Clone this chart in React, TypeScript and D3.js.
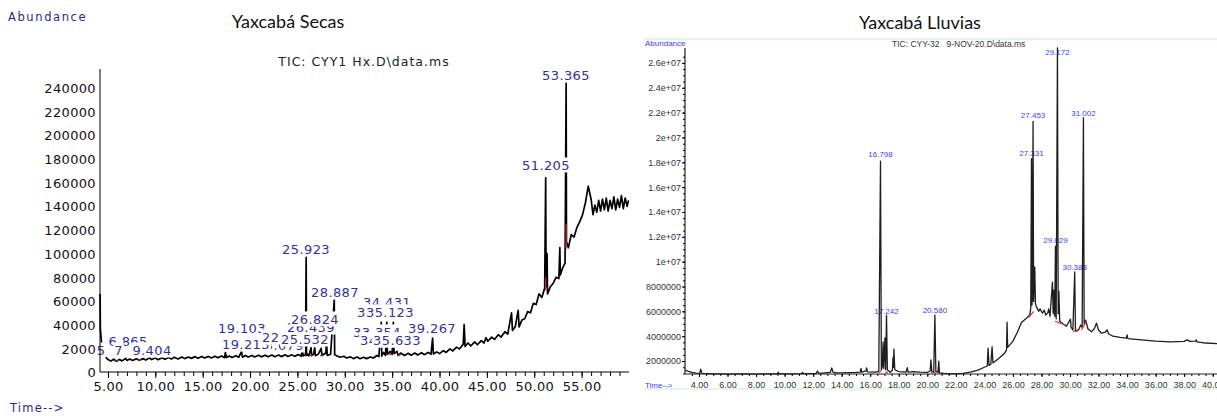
import * as d3 from 'd3';
import { useEffect, useRef } from 'react';

// ---------- Yaxcabá Secas (left chromatogram) ----------
// [retention time (min), abundance]
const secasTrace: [number, number][] = [
  [4.17, 66000], [4.2, 36000], [4.35, 22000], [4.6, 14000], [5.0, 10500], [5.3, 9200], [5.6, 10800],
  [5.9, 9000], [6.2, 10600], [6.5, 9400], [6.865, 11500], [7.0, 9800], [7.3, 10900], [7.6, 9700],
  [8.0, 11200], [8.3, 10000], [8.7, 11300], [9.0, 10200], [9.404, 12000], [9.6, 10500], [10.0, 11800],
  [10.3, 10400], [10.7, 12100], [11.0, 10700], [11.4, 12300], [11.7, 11000], [12.0, 12500], [12.4, 11000],
  [12.8, 12700], [13.1, 11300], [13.5, 12600], [13.8, 11500], [14.2, 13000], [14.5, 11600], [14.9, 13100],
  [15.2, 11800], [15.6, 13200], [15.9, 11900], [16.3, 13300], [16.6, 12000], [17.0, 13500], [17.3, 12100],
  [17.4, 16500], [17.5, 12200], [17.8, 13600], [18.1, 12300], [18.5, 13800], [18.8, 12400], [19.103, 17500],
  [19.2, 12500], [19.5, 14000], [19.8, 12600], [20.2, 14000], [20.5, 12700], [20.9, 14100], [21.2, 12800],
  [21.6, 14200], [21.9, 12800], [22.3, 14300], [22.6, 12900], [23.0, 14300], [23.3, 13000], [23.7, 14500],
  [24.0, 13100], [24.4, 14500], [24.7, 13200], [25.1, 14700], [25.4, 13300], [25.532, 19500], [25.6, 13500],
  [25.85, 14500], [25.923, 97000], [25.96, 14000], [26.1, 15000], [26.2, 13600], [26.439, 20500], [26.5, 13800],
  [26.7, 15000], [26.824, 20500], [26.9, 13800], [27.2, 15000], [27.5, 20000], [27.6, 13900], [28.0, 16000],
  [28.07, 26000], [28.15, 14000], [28.5, 15000], [28.887, 61000], [28.93, 14500], [29.2, 13500], [29.5, 12500],
  [29.9, 13300], [30.2, 11800], [30.6, 12800], [30.9, 11300], [31.3, 12600], [31.6, 11200], [32.0, 12400],
  [32.3, 11300], [32.7, 12700], [33.0, 11800], [33.4, 14000], [33.6, 13000], [33.85, 42000], [33.9, 13500],
  [34.1, 16500], [34.3, 14000], [34.431, 42000], [34.5, 15000], [34.8, 17500], [35.0, 15000], [35.123, 42000],
  [35.2, 15500], [35.5, 17500], [35.633, 14000], [35.9, 16000], [36.3, 14000], [36.7, 15800], [37.0, 14200],
  [37.4, 16000], [37.7, 14400], [38.1, 16300], [38.4, 14600], [38.8, 16600], [39.1, 15000], [39.267, 28700],
  [39.35, 15200], [39.7, 17000], [40.0, 15500], [40.4, 18000], [40.7, 16500], [41.1, 19500], [41.4, 17800],
  [41.8, 21000], [42.1, 19500], [42.5, 23500], [42.6, 40000], [42.7, 21500], [43.0, 24500], [43.3, 22000],
  [43.7, 25500], [44.0, 23000], [44.4, 26500], [44.7, 24500], [44.9, 29000], [45.1, 26000], [45.5, 29500],
  [45.8, 27500], [46.2, 31500], [46.5, 29500], [46.9, 34000], [47.2, 32000], [47.6, 50000], [47.7, 35000],
  [48.0, 38500], [48.3, 52000], [48.4, 38000], [48.7, 44000], [49.0, 45000], [49.3, 51000], [49.6, 50000],
  [49.9, 58000], [50.2, 57000], [50.5, 66000], [50.8, 63000], [51.1, 71000], [51.205, 164000], [51.25, 72000],
  [51.35, 100000], [51.4, 66000], [51.7, 72000], [52.0, 75000], [52.3, 80000], [52.6, 79000], [52.7, 105000],
  [52.75, 82000], [53.0, 88000], [53.25, 92000], [53.365, 244000], [53.4, 110000], [53.6, 105000],
  [53.9, 116000], [54.2, 114000], [54.5, 122000], [54.8, 127000], [55.1, 133000], [55.4, 143000],
  [55.7, 157000], [56.0, 146000], [56.2, 133000], [56.4, 141000], [56.6, 135000], [56.8, 145000],
  [57.0, 136000], [57.2, 146000], [57.4, 137000], [57.6, 147000], [57.8, 136000], [58.0, 145000],
  [58.2, 138000], [58.4, 148000], [58.6, 137000], [58.8, 146000], [59.0, 139000], [59.2, 149000],
  [59.4, 138000], [59.6, 147000], [59.8, 140000], [59.95, 145000],
];
const secasYTicks = [0, 20000, 40000, 60000, 80000, 100000, 120000, 140000, 160000, 180000, 200000, 220000, 240000];
const secasYTickLabels = ['0', '2000', '40000', '60000', '80000', '100000', '120000', '140000', '160000', '180000', '200000', '220000', '240000'];
const secasXTicks = [5, 10, 15, 20, 25, 30, 35, 40, 45, 50, 55];
// peak label: text, anchor time, anchor abundance (drawn in this order)
const secasLabels: [string, number, number][] = [
  ['6.865', 7.12, 22000], ['5', 4.27, 14400], ['7', 6.11, 14400], ['9.404', 9.65, 14400],
  ['19.103', 19.15, 33000], ['23.079', 23.16, 18600], ['19.213', 19.57, 19400], ['22.376', 23.8, 25400],
  ['25.532', 25.8, 23700], ['26.439', 26.43, 33800], ['26.824', 26.86, 40600], ['25.923', 25.91, 99700],
  ['28.887', 28.97, 63400], ['34.431', 34.46, 54900], ['33.754', 33.82, 46500], ['35.123', 34.77, 46500],
  ['33.354', 33.4, 29600], ['34.935', 34.14, 22800], ['35.633', 35.51, 22800], ['39.267', 39.21, 33000],
  ['51.205', 51.24, 170700], ['53.365', 53.35, 246800],
];
// integration marks: t1, a1, t2, a2
const secasRedMarks: [number, number, number, number][] = [
  [53.36, 104000, 53.36, 125000], [51.2, 69000, 51.2, 80000], [5.8, 9500, 6.1, 9800], [8.2, 10200, 8.5, 10300],
  [26.3, 13800, 26.6, 14000], [27.4, 13900, 27.7, 14000], [28.85, 14200, 29.0, 14000], [34.6, 15000, 34.9, 15200],
  [35.6, 14200, 35.9, 14500],
];

// ---------- Yaxcabá Lluvias (right chromatogram) ----------
const lluviasTrace: [number, number][] = [
  [3.02, 1.3e6], [3.2, 1.18e6], [3.5, 1.08e6], [3.8, 1.03e6], [4.05, 1.0e6], [4.12, 1.35e6], [4.2, 1.0e6],
  [4.6, 0.98e6], [5.0, 0.96e6], [5.5, 0.97e6], [6.0, 0.95e6], [7.0, 0.96e6], [8.0, 0.95e6], [9.0, 0.97e6],
  [9.5, 0.96e6], [9.55, 1.1e6], [9.6, 0.96e6], [10.5, 0.96e6], [11.2, 0.99e6], [11.25, 1.1e6], [11.3, 0.98e6],
  [12.2, 0.99e6], [12.3, 1.2e6], [12.4, 1.0e6], [12.8, 1.05e6], [13.2, 1.08e6], [13.3, 1.45e6], [13.4, 1.1e6],
  [13.6, 1.05e6], [14.0, 1.04e6], [14.5, 1.06e6], [15.0, 1.08e6], [15.3, 1.1e6], [15.35, 1.4e6], [15.4, 1.1e6],
  [15.7, 1.2e6], [15.75, 1.45e6], [15.8, 1.12e6], [16.2, 1.1e6], [16.5, 1.12e6], [16.6, 1.2e6], [16.72, 18.1e6],
  [16.78, 1.3e6], [16.85, 1.6e6], [16.9, 3.55e6], [16.95, 1.4e6], [17.03, 3.87e6], [17.08, 1.3e6],
  [17.14, 5.7e6], [17.2, 1.3e6], [17.4, 1.1e6], [17.55, 1.25e6], [17.6, 2.3e6], [17.63, 1.5e6], [17.66, 2.96e6],
  [17.72, 1.3e6], [18.0, 1.15e6], [18.5, 1.1e6], [18.6, 1.46e6], [18.65, 1.1e6], [19.0, 1.15e6], [19.5, 1.1e6],
  [20.0, 1.08e6], [20.2, 1.2e6], [20.25, 2.1e6], [20.32, 1.1e6], [20.45, 1.1e6], [20.53, 5.7e6], [20.6, 1.15e6],
  [20.75, 1.1e6], [20.8, 2.0e6], [20.85, 1.05e6], [21.2, 1.0e6], [21.6, 0.97e6], [22.0, 0.98e6], [22.5, 1.0e6],
  [23.0, 1.1e6], [23.5, 1.25e6], [24.0, 1.5e6], [24.2, 1.6e6], [24.26, 3.04e6], [24.32, 1.65e6], [24.45, 1.75e6],
  [24.54, 3.15e6], [24.6, 1.85e6], [25.0, 2.2e6], [25.4, 2.6e6], [25.55, 2.9e6], [25.59, 5.13e6], [25.63, 3.1e6],
  [26.0, 3.6e6], [26.3, 4.3e6], [26.6, 5.1e6], [26.9, 5.4e6], [27.1, 5.6e6], [27.2, 5.8e6], [27.25, 6.3e6],
  [27.3, 18.3e6], [27.33, 6.5e6], [27.36, 7.0e6], [27.41, 21.3e6], [27.45, 6.8e6], [27.53, 9.57e6],
  [27.58, 6.6e6], [27.65, 6.36e6], [27.8, 6.0e6], [27.9, 6.2e6], [28.07, 5.85e6], [28.2, 6.1e6], [28.3, 5.7e6],
  [28.45, 5.9e6], [28.5, 6.2e6], [28.6, 5.6e6], [28.77, 8.36e6], [28.82, 5.8e6], [28.88, 7.7e6], [28.93, 5.6e6],
  [28.98, 11.25e6], [29.03, 5.4e6], [29.12, 27.2e6], [29.17, 5.8e6], [29.22, 7.6e6], [29.28, 5.2e6],
  [29.5, 5.0e6], [29.75, 4.8e6], [30.03, 5.37e6], [30.08, 4.7e6], [30.2, 4.5e6], [30.33, 9.17e6],
  [30.38, 4.45e6], [30.6, 4.5e6], [30.75, 4.9e6], [30.85, 4.7e6], [30.94, 21.6e6], [30.99, 5.0e6],
  [31.1, 5.3e6], [31.25, 4.6e6], [31.5, 4.35e6], [31.7, 4.6e6], [31.85, 5.05e6], [32.0, 4.5e6], [32.2, 4.24e6],
  [32.45, 4.3e6], [32.6, 4.5e6], [32.7, 4.2e6], [33.0, 4.0e6], [33.5, 3.9e6], [33.95, 3.85e6], [34.0, 4.1e6],
  [34.05, 3.8e6], [35.0, 3.7e6], [36.0, 3.6e6], [37.0, 3.55e6], [38.0, 3.58e6], [38.2, 3.7e6], [38.4, 3.58e6],
  [38.8, 3.6e6], [38.85, 3.7e6], [38.9, 3.55e6], [39.5, 3.45e6], [40.3, 3.4e6],
];
const lluviasYTicks = [2e6, 4e6, 6e6, 8e6, 10e6, 12e6, 14e6, 16e6, 18e6, 20e6, 22e6, 24e6, 26e6];
const lluviasYTickLabels = ['2000000', '4000000', '6000000', '8000000', '1e+07', '1.2e+07', '1.4e+07', '1.6e+07', '1.8e+07', '2e+07', '2.2e+07', '2.4e+07', '2.6e+07'];
const lluviasXTicks = [4, 6, 8, 10, 12, 14, 16, 18, 20, 22, 24, 26, 28, 30, 32, 34, 36, 38, 40];
const lluviasLabels: [string, number, number][] = [
  ['16.798', 16.72, 18.4e6], ['17.242', 17.14, 5.75e6], ['20.580', 20.53, 5.9e6], ['27.331', 27.3, 18.5e6],
  ['27.453', 27.41, 21.6e6], ['29.172', 29.12, 26.6e6], ['31.002', 30.94, 21.7e6], ['29.029', 28.98, 11.5e6],
  ['30.388', 30.33, 9.3e6],
];
const lluviasRedMarks: [number, number, number, number][] = [
  [16.6, 1.05e6, 16.78, 1.25e6], [17.05, 1.1e6, 17.25, 1.1e6], [20.45, 1.05e6, 20.62, 1.05e6],
  [27.1, 5.5e6, 27.45, 6.0e6], [28.95, 5.2e6, 29.4, 5.0e6], [30.2, 4.4e6, 30.55, 4.4e6], [30.8, 4.5e6, 31.15, 5.2e6],
];

const xL = d3.scaleLinear().domain([4.16, 60]).range([100, 629]);
const yL = d3.scaleLinear().domain([0, 256000]).range([372, 69]);
const xR = d3.scaleLinear().domain([3.02, 40.3]).range([685, 1217]);
const yR = d3.scaleLinear().domain([0.956e6, 27.2e6]).range([374, 48]);

const SANS = 'DejaVu Sans, sans-serif';
const ARIAL = 'Liberation Sans, Arial, sans-serif';

const App = () => {
  const gyL = useRef<SVGGElement>(null);
  const gxL = useRef<SVGGElement>(null);
  const gxLm = useRef<SVGGElement>(null);
  const gyR = useRef<SVGGElement>(null);
  const gyRm = useRef<SVGGElement>(null);
  const gxR = useRef<SVGGElement>(null);
  const gxRm = useRef<SVGGElement>(null);
  const labL = useRef<SVGGElement>(null);

  useEffect(() => {
    const style = (g: d3.Selection<SVGGElement, unknown, null, undefined>, font: string, size: number, ls: number, col: string) => {
      g.select('.domain').remove();
      g.selectAll('text').attr('font-family', font).attr('font-size', size).attr('letter-spacing', ls).attr('fill', col);
      g.selectAll('line').attr('stroke', '#000');
    };
    const yl = d3.select(gyL.current!).call(
      d3.axisLeft(yL).tickValues(secasYTicks).tickFormat((_, i) => secasYTickLabels[i]).tickSize(0).tickPadding(4)
    );
    style(yl, SANS, 13, 0.35, '#111');
    yl.selectAll('text').attr('dy', '0.36em');
    const xl = d3.select(gxL.current!).call(
      d3.axisBottom(xL).tickValues(secasXTicks).tickFormat(d3.format('.2f')).tickSize(6).tickPadding(4)
    );
    style(xl, SANS, 13, 0.3, '#111');
    const xlm = d3.select(gxLm.current!).call(
      d3.axisBottom(xL).tickValues(d3.range(5, 60, 1)).tickFormat(() => '').tickSize(4)
    );
    style(xlm, SANS, 13, 0, '#111');

    const yr = d3.select(gyR.current!).call(
      d3.axisLeft(yR).tickValues(lluviasYTicks).tickFormat((_, i) => lluviasYTickLabels[i]).tickSize(3).tickPadding(1)
    );
    style(yr, ARIAL, 9, 0, '#333');
    const yrm = d3.select(gyRm.current!).call(
      d3.axisLeft(yR).tickValues(d3.range(1e6, 27e6, 5e5)).tickFormat(() => '').tickSize(2)
    );
    style(yrm, ARIAL, 9, 0, '#333');
    const xr = d3.select(gxR.current!).call(
      d3.axisBottom(xR).tickValues(lluviasXTicks).tickFormat(d3.format('.2f')).tickSize(3).tickPadding(5)
    );
    style(xr, ARIAL, 9, 0, '#333');
    const xrm = d3.select(gxRm.current!).call(
      d3.axisBottom(xR).tickValues(d3.range(3.5, 40.3, 0.5)).tickFormat(() => '').tickSize(2)
    );
    style(xrm, ARIAL, 9, 0, '#333');

    // left peak labels with white boxes, later ones hide earlier ones
    const g = d3.select(labL.current!);
    g.selectAll('*').remove();
    secasLabels.forEach(([t, rt, ab]) => {
      const x = xL(rt);
      const y = yL(ab);
      const rect = g.append('rect').attr('fill', '#fff');
      const text = g
        .append('text')
        .attr('x', x)
        .attr('y', y)
        .attr('text-anchor', 'middle')
        .attr('font-family', SANS)
        .attr('font-size', 13)
        .attr('letter-spacing', 0.4)
        .attr('fill', '#30309e')
        .text(t);
      const b = (text.node() as SVGTextElement).getBBox();
      rect.attr('x', b.x - 1).attr('y', y - 12.5).attr('width', b.width + 2).attr('height', 15);
    });
  }, []);

  const lineL = d3.line<[number, number]>().x((d) => xL(d[0])).y((d) => yL(d[1]));
  const lineR = d3.line<[number, number]>().x((d) => xR(d[0])).y((d) => yR(d[1]));

  return (
    <svg width={1217} height={416} style={{ position: 'absolute', left: 0, top: 0, background: '#fff' }}>
      {/* ---------- left ---------- */}
      <text x={8} y={21} fontFamily={SANS} fontSize={11.5} letterSpacing={1.6} fill="#26268c">
        Abundance
      </text>
      <text x={288} y={28} textAnchor="middle" fontFamily="Lato, sans-serif" fontSize={18} fill="#111">
        Yaxcabá Secas
      </text>
      <text x={364} y={66} textAnchor="middle" fontFamily={SANS} fontSize={12.5} letterSpacing={1} fill="#222">
        {'TIC: CYY1 Hx.D\\data.ms'}
      </text>
      <path d={lineL(secasTrace) ?? ''} fill="none" stroke="#000" strokeWidth={1.7} strokeLinejoin="round" />
      {secasRedMarks.map((m, i) => (
        <line key={i} x1={xL(m[0])} y1={yL(m[1])} x2={xL(m[2])} y2={yL(m[3])} stroke="#c0282a" strokeWidth={1.3} />
      ))}
      <g ref={labL} />
      <line x1={100} y1={69} x2={100} y2={372} stroke="#000" strokeWidth={1} />
      <line x1={100} y1={372} x2={629} y2={372} stroke="#000" strokeWidth={1.2} />
      <g ref={gyL} transform="translate(100,0)" />
      <g ref={gxL} transform="translate(0,372)" />
      <g ref={gxLm} transform="translate(0,372)" />
      <text x={10} y={412} fontFamily={SANS} fontSize={11.5} letterSpacing={1.2} fill="#26268c">
        {'Time-->'}
      </text>

      {/* ---------- right ---------- */}
      <text x={920} y={29} textAnchor="middle" fontFamily="Lato, sans-serif" fontSize={18} fill="#111">
        Yaxcabá Lluvias
      </text>
      <line x1={644} y1={39} x2={1217} y2={39} stroke="#cdeccd" strokeWidth={1} />
      <line x1={644} y1={389} x2={1217} y2={389} stroke="#cdeccd" strokeWidth={1} />
      <text x={645} y={46} fontFamily={ARIAL} fontSize={8} fill="#3c3cff">
        Abundance
      </text>
      <text x={892} y={47} fontFamily={ARIAL} fontSize={8.5} fill="#333" style={{ whiteSpace: 'pre' }}>
        {'TIC: CYY-32   9-NOV-20.D\\data.ms'}
      </text>
      {lluviasLabels.map(([t, rt, ab], i) => (
        <text key={i} x={xR(rt)} y={yR(ab)} textAnchor="middle" fontFamily={ARIAL} fontSize={8} fill="#3c3cff">
          {t}
        </text>
      ))}
      <path d={lineR(lluviasTrace) ?? ''} fill="none" stroke="#1e1e1e" strokeWidth={1.3} strokeLinejoin="round" />
      {lluviasRedMarks.map((m, i) => (
        <line key={i} x1={xR(m[0])} y1={yR(m[1])} x2={xR(m[2])} y2={yR(m[3])} stroke="#e8302a" strokeWidth={1.2} />
      ))}
      <line x1={685} y1={48} x2={685} y2={374} stroke="#222" strokeWidth={1.2} />
      <line x1={685} y1={374} x2={1217} y2={374} stroke="#222" strokeWidth={1.2} />
      <g ref={gyR} transform="translate(685,0)" />
      <g ref={gyRm} transform="translate(685,0)" />
      <g ref={gxR} transform="translate(0,374)" />
      <g ref={gxRm} transform="translate(0,374)" />
      <text x={645} y={388} fontFamily={ARIAL} fontSize={8} fill="#3c3cff">
        {'Time-->'}
      </text>
    </svg>
  );
};

export default App;
